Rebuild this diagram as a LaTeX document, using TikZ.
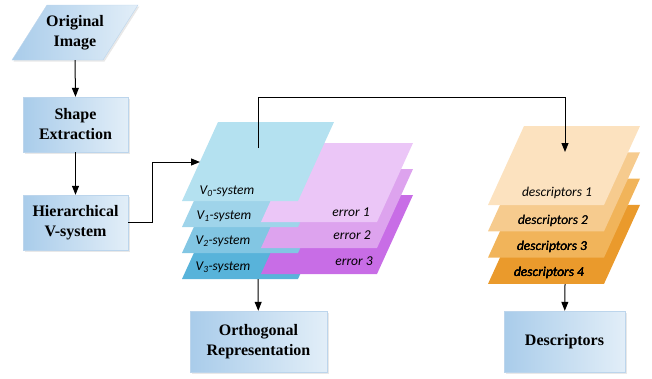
\documentclass[tikz,border=0pt]{standalone}
\usepackage{fontspec}
\setmainfont{Liberation Serif}
\newfontfamily\labelfont{Carlito}
\usetikzlibrary{arrows.meta,shadows}

\definecolor{boxdark}{HTML}{A9CCEA}
\definecolor{boxlight}{HTML}{E2EEF8}
\definecolor{boxline}{HTML}{BCD5EC}
\definecolor{vzero}{HTML}{B4E1F0}
\definecolor{vone}{HTML}{9FD4EA}
\definecolor{vtwo}{HTML}{82C6E3}
\definecolor{vthree}{HTML}{58B3DA}
\definecolor{eone}{HTML}{EBC6F7}
\definecolor{etwo}{HTML}{DDA3EE}
\definecolor{ethree}{HTML}{C86DE6}
\definecolor{desca}{HTML}{FCE2BF}
\definecolor{descb}{HTML}{F6CB8E}
\definecolor{descc}{HTML}{F1B45A}
\definecolor{descd}{HTML}{EA9A2C}

\tikzset{
  softshadow/.style={drop shadow={opacity=0.18,shadow xshift=1.5pt,shadow yshift=-1.5pt}},
  boxtext/.style={align=center,inner sep=2pt,font=\fontsize{16}{20}\selectfont\bfseries},
  box/.style={boxtext,draw=boxline,left color=boxdark,right color=boxlight,
    minimum width=105pt,minimum height=55pt,softshadow},
  tag/.style={inner sep=0pt,font=\labelfont\itshape\fontsize{13.5}{16}\selectfont},
  arrow/.style={draw=black,line width=1pt,-{Triangle[length=9pt,width=7pt]}}
}
% one layer of a stack: bottom left corner, colour
\newcommand{\plane}[2]{\fill[#2] (#1) -- ++(116,0) -- ++(36,-79) -- ++(-116,0) -- cycle;}

\begin{document}
\begin{tikzpicture}[x=1pt,y=-1pt]
\useasboundingbox (0,0) rectangle (652,378);

% left column
\shade[left color=boxdark,right color=boxlight,draw=boxline,softshadow]
  (12,60) -- (103,60) -- (138,5) -- (47,5) -- cycle;
\node[boxtext,minimum height=55pt] (orig) at (75,32.5) {Original\\Image};
\node[box] (shape) at (75.5,124.5) {Shape\\Extraction};
\node[box] (hier) at (75.5,222.5) {Hierarchical\\V-system};

% V-system and error layers
\foreach \k/\vc/\ec in {3/vthree/ethree,2/vtwo/etwo,1/vone/eone} {
  \plane{182,201+26*\k}{\vc}
  \plane{261,196+26*\k}{\ec}
}
\plane{182,201}{vzero}
\foreach \k/\x/\y in {0/227/191,1/224/216,2/223/241,3/223/267}
  \node[tag] (vlab\k) at (\x,\y) {V\textsubscript{\k}-system};
\foreach \k/\x/\y in {1/351/212,2/352/235,3/354/261}
  \node[tag] (elab\k) at (\x,\y) {error \k};

% descriptor layers
\foreach \k/\dc in {3/descd,2/descc,1/descb,0/desca}
  \plane{488,205+26.3*\k}{\dc}
\foreach \k/\x/\y in {1/557/193,2/553/221,3/552/247,4/549/273}
  \node[tag] (dlab\k) at (\x,\y) {descriptors \k};

% results
\node[box,minimum width=137pt,minimum height=61pt] (ortho) at (258.5,341.5) {Orthogonal\\Representation};
\node[box,minimum width=121pt,minimum height=61pt] (desc) at (564.5,341.5) {Descriptors};

\coordinate (v0in) at (200,162);
\coordinate (v0top) at (258,148);
\coordinate (v3bot) at (258,279);
\coordinate (d1top) at (565,152);
\coordinate (d4bot) at (565,284);

\draw[arrow] (orig.south) -- (shape.north);
\draw[arrow] (shape) -- (hier);
\draw[arrow] (hier.east) -- ++(24,0) |- (v0in);
\draw[arrow] (v0top) -- ++(0,-51) -| (d1top);
\draw[arrow] (v3bot) -- (ortho);
\draw[arrow] (d4bot) -- (desc);
\end{tikzpicture}
\end{document}
